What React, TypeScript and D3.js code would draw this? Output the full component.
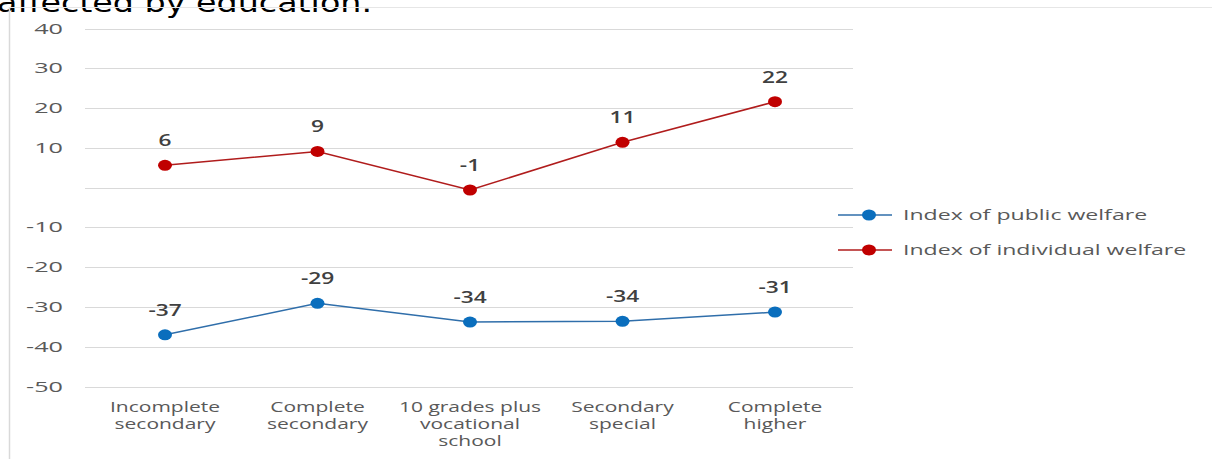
import React from "react";
import * as d3 from "d3";

const categories: string[][] = [
  ["Incomplete", "secondary"],
  ["Complete", "secondary"],
  ["10 grades plus", "vocational", "school"],
  ["Secondary", "special"],
  ["Complete", "higher"],
];
const publicWelfare = [-37.0, -29.1, -33.8, -33.6, -31.3];
const individualWelfare = [5.6, 9.1, -0.6, 11.4, 21.6];
const yTicks = [40, 30, 20, 10, 0, -10, -20, -30, -40, -50];
const tickLabels = ["40", "30", "20", "10", "", "-10", "-20", "-30", "-40", "-50"];
const seriesNames = ["Index of public welfare", "Index of individual welfare"];
const title = "affected by education.";

const W = 1212;
const H = 459;
const FONT = "'Open Sans', 'DejaVu Sans', sans-serif";

export default function App() {
  const keys = categories.map((c) => c.join(" "));
  const x = d3.scalePoint<string>().domain(keys).range([165, 775]);
  const y = d3.scaleLinear().domain([-50, 40]).range([386.5, 28.5]);
  const plotX0 = 85;
  const plotX1 = 853;

  const series = [
    { name: seriesNames[0], values: publicWelfare, line: "#2f6eaa", marker: "#0a6ebd" },
    { name: seriesNames[1], values: individualWelfare, line: "#b01c1c", marker: "#c00000" },
  ];

  const line = d3
    .line<number>()
    .x((_, i) => x(keys[i]) as number)
    .y((v) => y(v));

  const sTick = 1.8;
  const sCat = 1.5;
  const sLeg = 1.65;
  const sData = 1.42;

  return (
    <svg
      width={W}
      height={H}
      style={{ position: "absolute", left: 0, top: 0, background: "#fff" }}
    >
      <text
        x={-3}
        y={12}
        fontFamily="'DejaVu Sans', sans-serif"
        fontSize={26}
        fill="#000"
        textLength={375}
        lengthAdjust="spacingAndGlyphs"
      >
        {title}
      </text>
      {/* frame */}
      <line x1={9.5} x2={9.5} y1={7} y2={H} stroke="#d9d9d9" strokeWidth={1.5} />
      <line x1={9.5} x2={W} y1={7.5} y2={7.5} stroke="#e6e6e6" strokeWidth={1} />

      {/* gridlines + tick labels */}
      {yTicks.map((t, i) => (
        <g key={t}>
          <line
            x1={plotX0}
            x2={plotX1}
            y1={Math.round(y(t)) + 0.5}
            y2={Math.round(y(t)) + 0.5}
            stroke="#d9d9d9"
            strokeWidth={1}
          />
          <text
            transform={`translate(63,${y(t) + 5}) scale(${sTick},1)`}
            textAnchor="end"
            fontFamily={FONT}
            fontSize={14}
            fill="#595959"
          >
            {tickLabels[i]}
          </text>
        </g>
      ))}

      {/* category labels */}
      {categories.map((lines, i) => (
        <g key={keys[i]}>
          {lines.map((l, j) => (
            <text
              key={j}
              transform={`translate(${x(keys[i])},${412 + j * 17}) scale(${sCat},1)`}
              textAnchor="middle"
              fontFamily={FONT}
              fontSize={14}
              fill="#595959"
            >
              {l}
            </text>
          ))}
        </g>
      ))}

      {/* series */}
      {series.map((s) => (
        <g key={s.name}>
          <path d={line(s.values) || ""} fill="none" stroke={s.line} strokeWidth={1.5} />
          {s.values.map((v, i) => (
            <g key={i}>
              <ellipse cx={x(keys[i])} cy={y(v)} rx={7} ry={5.5} fill={s.marker} />
              <text
                transform={`translate(${x(keys[i])},${y(v) - 19}) scale(${sData},1)`}
                textAnchor="middle"
                fontFamily={FONT}
                fontSize={16}
                fontWeight={600}
                fill="#404040"
              >
                {Math.round(v)}
              </text>
            </g>
          ))}
        </g>
      ))}

      {/* legend */}
      {series.map((s, i) => {
        const ly = 215 + i * 35;
        return (
          <g key={s.name}>
            <line x1={838} x2={892} y1={ly} y2={ly} stroke={s.line} strokeWidth={1.5} />
            <ellipse cx={869} cy={ly} rx={7} ry={5.5} fill={s.marker} />
            <text
              transform={`translate(903,${ly + 5}) scale(${sLeg},1)`}
              fontFamily={FONT}
              fontSize={14}
              fill="#595959"
            >
              {s.name}
            </text>
          </g>
        );
      })}
    </svg>
  );
}
